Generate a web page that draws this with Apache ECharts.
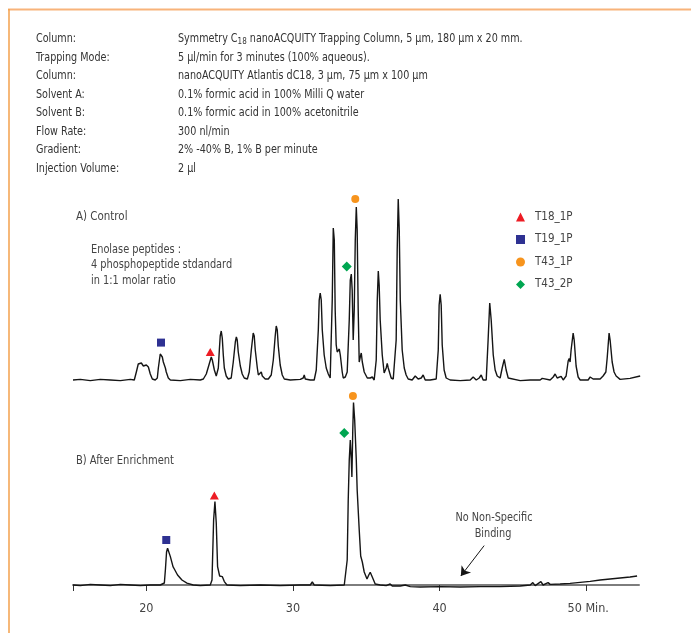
<!DOCTYPE html>
<html>
<head>
<meta charset="utf-8">
<script src="https://cdn.jsdelivr.net/npm/echarts@6/dist/echarts.min.js"></script>
<style>
html,body{margin:0;padding:0;background:#fff;}
#chart{width:691px;height:633px;}
</style>
</head>
<body>
<div id="chart"></div>
<script>
// ---- Data (retention time in minutes, signal in arbitrary units) ----
const traceA = [
[15.0,0],[15.5,0.3],[16.18,-0.3],[16.86,0.3],[17.55,0],[18.23,-0.3],[18.91,0.3],[19.18,0],[19.32,4],[19.45,8],[19.66,8.5],[19.80,7],[20.00,7.5],[20.14,6.5],[20.27,3],[20.41,0.5],[20.61,0],
[20.75,1],[20.82,6],[20.95,13],[21.02,13.5],[21.09,11.5],[21.16,9],[21.23,8.5],[21.30,6],[21.36,4],[21.50,1],[21.64,0],[22.32,-0.3],[23.00,0.3],[23.68,0],
[23.89,0.5],[24.09,3],[24.29,8],[24.43,11.5],[24.50,10],[24.64,5],[24.77,2],[24.84,1.5],[24.91,6],[24.98,15],[25.04,22],[25.11,24.5],[25.18,21],[25.25,12.5],[25.32,6],[25.45,2],[25.59,0.5],
[25.79,1],[25.93,9],[26.07,19],[26.14,21.5],[26.20,20],[26.27,14],[26.41,7],[26.54,3],[26.68,1],[26.89,0.5],
[27.02,4],[27.16,15],[27.29,23.5],[27.36,22],[27.43,15],[27.57,6],[27.64,2.5],[27.77,2],[27.84,4],[27.91,2],[28.11,0.5],[28.32,0.5],
[28.45,1],[28.52,2.5],[28.59,2],[28.66,10],[28.79,22],[28.86,27],[28.93,25],[29.00,17],[29.13,7.5],[29.27,2.5],[29.41,0.5],[29.82,0],[30.50,0.3],
[30.70,1],[30.77,2.5],[30.84,0.5],[31.18,0],[31.45,0],[31.59,5],[31.73,25],[31.79,40],[31.86,43.5],[31.93,40],[32.00,25],[32.13,12.5],[32.27,6],[32.41,3],[32.54,1],
[32.61,2],[32.68,40],[32.75,76],[32.82,70],[32.88,35],[32.95,17.5],[33.02,14],[33.09,14],[33.16,15.5],[33.23,12.5],[33.36,4],[33.43,1],[33.57,1.5],
[33.70,4],[33.84,30],[33.91,50],[33.98,53],[34.04,45],[34.11,20],[34.18,35],[34.25,70],[34.32,86.5],[34.38,75],[34.45,35],[34.52,9],[34.59,11.5],[34.66,13.5],[34.73,9],[34.86,4],
[35.07,1],[35.27,1],[35.41,1.5],[35.54,0],[35.61,-1],[35.68,10],[35.75,40],[35.82,54.5],[35.88,47.5],[35.95,30],[36.09,12.5],[36.22,3.5],[36.36,6],[36.43,8.3],[36.50,6],[36.70,1],[36.84,0.5],
[36.97,1],[37.04,20],[37.11,65],[37.18,90.5],[37.25,75],[37.32,40],[37.45,15],[37.59,6],[37.72,2.5],[37.86,0.5],[38.13,0],
[38.34,2],[38.41,3],[38.54,0.5],[38.75,1],[38.88,2.5],[39.02,0],[39.36,0],[39.77,0.5],
[39.91,15],[39.97,37.5],[40.04,42.8],[40.11,37.5],[40.18,17.5],[40.31,5],[40.45,1],[40.72,0],[41.41,-0.3],[42.09,0],
[42.29,1.5],[42.36,2.5],[42.50,0],[42.70,1],[42.84,2.5],[42.97,0],[43.18,0],
[43.31,20],[43.42,38.5],[43.52,30],[43.66,12.5],[43.79,5],[43.93,2],[44.06,3],[44.13,1],[44.27,6],[44.41,10.3],[44.54,5],[44.68,1],[44.81,0],
[45.50,-0.3],[46.18,0],[46.86,0],[47.00,0.8],[47.13,0],[47.54,0],[47.75,1.5],[47.88,3],[48.02,1],[48.15,0.5],[48.29,1.8],[48.43,0],
[48.63,2],[48.77,9.5],[48.84,10.8],[48.90,9],[48.97,15],[49.11,23.5],[49.18,20],[49.31,7],[49.45,1.5],[49.59,0],
[50.13,0],[50.27,1.5],[50.38,2.3],[50.47,0.5],[50.95,0.5],[51.15,2],[51.34,4],[51.43,11],[51.56,23.5],[51.63,20],[51.77,9],[51.90,4],[52.04,2],[52.31,0.3],[52.99,0.8],[53.68,2]
];

const traceB = [
[15.0,0],[15.5,-0.3],[16.18,0.3],[16.86,0],[17.55,-0.3],[18.23,0.3],[18.91,0],[19.59,-0.3],[20.27,0],[20.95,0],
[21.23,1],[21.30,7.5],[21.38,16.5],[21.45,18.4],[21.53,17.5],[21.64,14.2],[21.82,9.2],[21.91,8],[22.01,7],[22.13,5],[22.43,2.5],[22.77,0.9],[23.20,0],[23.68,-0.3],
[24.36,0],[24.48,2.5],[24.59,32.5],[24.68,41.7],[24.77,31],[24.86,9.2],[25.00,4.5],[25.18,4.2],[25.32,1.7],[25.50,0],
[26.41,-0.3],[27.77,0],[29.13,-0.3],[30.50,0],[31.18,0],[31.32,1.5],[31.45,0],[32.54,-0.3],
[33.50,0],[33.60,1],[33.70,12.5],[33.77,42.5],[33.84,62.5],[33.91,72.5],[33.98,62.5],[34.02,54],[34.08,77.5],[34.13,91.2],[34.21,82.5],[34.32,62.5],[34.38,47.5],[34.52,27.5],[34.62,14.5],[34.73,11.5],[34.86,6.5],
[35.05,3],[35.17,5],[35.27,6.4],[35.41,4],[35.61,0.5],[35.95,0],[36.36,-0.3],[36.63,0.5],[36.77,-0.5],[37.32,-0.5],[37.66,0],[38.00,-0.8],
[38.68,-1],[40.04,-0.8],[41.41,-1],[42.77,-0.8],[44.13,-0.8],[45.50,-0.5],[46.18,0],[46.36,1.2],[46.52,-0.3],[46.91,1.7],[47.06,0],[47.40,1.2],[47.54,0.3],
[48.22,0.5],[48.90,0.8],[49.59,1.3],[50.27,1.8],[50.95,2.5],[51.63,3],[52.31,3.5],[52.99,4],[53.47,4.5]
];

// Marker names / peak labels
const peakNames   = ['T18_1P', 'T19_1P', 'T43_1P', 'T43_2P'];
const peakTimeA   = [24.36, 21.00, 34.25, 33.67];
const peakLevelA  = [14, 18.7, 90.5, 56.8];
const peakTimeB   = [24.64, 21.36, 34.09, 33.50];
const peakLevelB  = [44.7, 22.5, 94.5, 76];

const tickValues  = [15, 20, 30, 40, 50];
const tickLabels  = [20, 30, 40, 50];

// Arrow annotation (time, signal) in panel B
const arrowFrom = [43.04, 19.7];
const arrowTo   = [41.45, 4.5];

const headerLabels = ['Column:', 'Trapping Mode:', 'Column:', 'Solvent A:', 'Solvent B:', 'Flow Rate:', 'Gradient:', 'Injection Volume:'];
const headerValues = [
  'Symmetry C{sub|18} nanoACQUITY Trapping Column, 5 µm, 180 µm x 20 mm.',
  '5 µl/min for 3 minutes (100% aqueous).',
  'nanoACQUITY Atlantis dC18, 3 µm, 75 µm x 100 µm',
  '0.1% formic acid in 100% Milli Q water',
  '0.1% formic acid in 100% acetonitrile',
  '300 nl/min',
  '2% -40% B, 1% B per minute',
  '2 µl'
];

// ---- Styling ----
const FONT = '"DejaVu Sans Condensed", "Liberation Sans", sans-serif';
const peakColors  = ['#ed1c24', '#2e3192', '#f7941d', '#00a651'];
const peakSymbols = ['triangle', 'rect', 'circle', 'diamond'];
const peakSizes   = [[9, 8], [8, 8], [8, 8], [10, 10]];

const chart = echarts.init(document.getElementById('chart'), null, {renderer: 'canvas'});

const series = [
  {
    type: 'line', name: 'A', xAxisIndex: 0, yAxisIndex: 0, data: traceA,
    showSymbol: false, symbol: 'none', silent: true, smooth: false,
    lineStyle: {color: '#151515', width: 1.4}
  },
  {
    type: 'line', name: 'B', xAxisIndex: 1, yAxisIndex: 1, data: traceB,
    showSymbol: false, symbol: 'none', silent: true, smooth: false,
    lineStyle: {color: '#151515', width: 1.4},
    markLine: {
      silent: true, symbol: ['none', 'arrow'], symbolSize: 9,
      lineStyle: {color: '#151515', width: 1, type: 'solid'},
      label: {show: false},
      emphasis: {disabled: true},
      data: [[{coord: arrowFrom}, {coord: arrowTo}]]
    }
  }
];
peakNames.forEach((name, i) => {
  series.push({
    type: 'scatter', name: name, xAxisIndex: 0, yAxisIndex: 0,
    data: [[peakTimeA[i], peakLevelA[i]]],
    symbol: peakSymbols[i], symbolSize: peakSizes[i],
    itemStyle: {color: peakColors[i], opacity: 1}, silent: true
  });
  series.push({
    type: 'scatter', name: name, xAxisIndex: 1, yAxisIndex: 1,
    data: [[peakTimeB[i], peakLevelB[i]]],
    symbol: peakSymbols[i], symbolSize: peakSizes[i],
    itemStyle: {color: peakColors[i], opacity: 1}, silent: true
  });
});

const graphics = [
  {type: 'line', shape: {x1: 8, y1: 9.5, x2: 691, y2: 9.5}, style: {stroke: '#f8b37a', lineWidth: 2}, silent: true},
  {type: 'line', shape: {x1: 9, y1: 9, x2: 9, y2: 633}, style: {stroke: '#f3a04c', lineWidth: 1.5}, silent: true}
];
headerLabels.forEach((t, i) => {
  graphics.push({type: 'text', x: 36, y: 39 + i * 18.5, scaleX: 0.89,
    style: {text: t, font: '12px ' + FONT, fill: '#333', verticalAlign: 'middle'}});
  graphics.push({type: 'text', x: 178, y: 39 + i * 18.5, scaleX: 0.89,
    style: {text: headerValues[i], font: '12px ' + FONT, fill: '#333', verticalAlign: 'middle',
      rich: {sub: {fontSize: 9, fontFamily: FONT, fill: '#333', padding: [5, 0, 0, 0]}}}});
});
// [text, x, y, align, fontSize, scaleX]
const labelTexts = [
  ['A) Control', 76, 216.5, 'left', 13, 0.88],
  ['Enolase peptides :', 91, 250, 'left', 12.5, 0.87],
  ['4 phosphopeptide stdandard', 91, 265, 'left', 12.5, 0.87],
  ['in 1:1 molar ratio', 91, 280.5, 'left', 12.5, 0.87],
  ['B) After Enrichment', 76, 461, 'left', 13, 0.85],
  ['No Non-Specific', 494, 517.5, 'center', 12, 0.9],
  ['Binding', 493, 534, 'center', 12, 0.9]
];
labelTexts.forEach(l => {
  graphics.push({type: 'text', x: l[1], y: l[2], scaleX: l[5],
    style: {text: l[0], font: l[4] + 'px ' + FONT, fill: '#444', align: l[3], verticalAlign: 'middle'}});
});

const option = {
  animation: false,
  backgroundColor: '#ffffff',
  grid: [
    {left: 73, right: 52, top: 175, height: 210},
    {left: 73, right: 52, top: 383, height: 210}
  ],
  xAxis: [
    {gridIndex: 0, type: 'value', min: 15, max: 53.6, show: false},
    {gridIndex: 1, type: 'value', min: 15, max: 53.6,
      axisLine: {show: true, lineStyle: {color: '#7d7d7d', width: 2}},
      axisTick: {show: true, customValues: tickValues, length: 6, inside: false, lineStyle: {color: '#333', width: 1}},
      axisLabel: {show: true, customValues: tickLabels, margin: 9, color: '#444', fontSize: 12.5, fontFamily: FONT,
        formatter: v => v === 50 ? '{m|50 Min.}' : String(v),
        rich: {m: {padding: [0, 0, 0, 4], fontSize: 12.5, fontFamily: FONT, color: '#444'}}},
      splitLine: {show: false}
    }
  ],
  yAxis: [
    {gridIndex: 0, type: 'value', min: -2.5, max: 102.5, show: false},
    {gridIndex: 1, type: 'value', min: -4, max: 101, show: false}
  ],
  legend: {
    orient: 'vertical', left: 516, top: 210, padding: 0, itemWidth: 9, itemHeight: 9, itemGap: 8.5,
    data: peakNames, selectedMode: false,
    textStyle: {fontSize: 11.5, color: '#444', fontFamily: FONT, padding: [0, 0, 0, 5], lineHeight: 14}
  },
  graphic: graphics,
  series: series
};
chart.setOption(option);
</script>
</body>
</html>
